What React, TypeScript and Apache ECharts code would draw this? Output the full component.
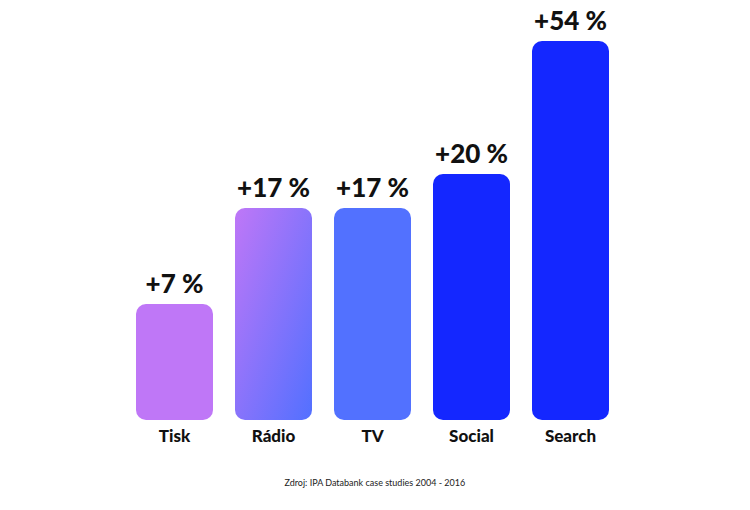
import React, { useEffect, useRef } from "react";
import * as echarts from "echarts";

const categories = ["Tisk", "Rádio", "TV", "Social", "Search"];
// growth in percent shown above each bar
const growthPct = [7, 17, 17, 20, 54];
// bar heights as drawn in the reference (not proportional to the percentages)
const barHeights = [116, 212, 212, 246, 379];
const sourceText = "Zdroj: IPA Databank case studies 2004 - 2016";

const FONT = "Lato, 'Noto Sans', sans-serif";

const barColors: any[] = [
  "#BF77F7",
  new echarts.graphic.LinearGradient(0, 0, 1, 1, [
    { offset: 0, color: "#BF77F7" },
    { offset: 1, color: "#5270FF" },
  ]),
  "#5271FF",
  "#1427FF",
  "#1427FF",
];

export default function App() {
  const ref = useRef<HTMLDivElement>(null);
  useEffect(() => {
    if (!ref.current) return;
    const chart = echarts.init(ref.current, null, { renderer: "svg" });
    chart.setOption({
      animation: false,
      backgroundColor: "#ffffff",
      grid: { left: 125, width: 495, top: 20, bottom: 90, containLabel: false },
      xAxis: {
        type: "category",
        data: categories,
        axisLine: { show: false },
        axisTick: { show: false },
        axisLabel: {
          color: "#111111",
          fontFamily: FONT,
          fontWeight: 900,
          fontSize: 17,
          margin: 7,
        },
      },
      yAxis: {
        type: "value",
        min: 0,
        max: 400,
        show: false,
        splitLine: { show: false },
      },
      series: [
        {
          type: "bar",
          barWidth: 77,
          data: barHeights.map((h, i) => ({
            value: h,
            itemStyle: { color: barColors[i], borderRadius: 10 },
            label: {
              show: true,
              position: "top",
              distance: 8,
              formatter: "+" + growthPct[i] + " %",
              color: "#111111",
              fontFamily: FONT,
              fontWeight: 900,
              fontSize: 26,
            },
          })),
        },
      ],
      graphic: [
        {
          type: "text",
          left: "center",
          top: 478,
          style: {
            text: sourceText,
            fill: "#222222",
            font: "9px " + FONT,
          },
        },
      ],
    });
    return () => chart.dispose();
  }, []);
  return (
    <div
      ref={ref}
      style={{ position: "absolute", left: 0, top: 0, width: 750, height: 510 }}
    />
  );
}
